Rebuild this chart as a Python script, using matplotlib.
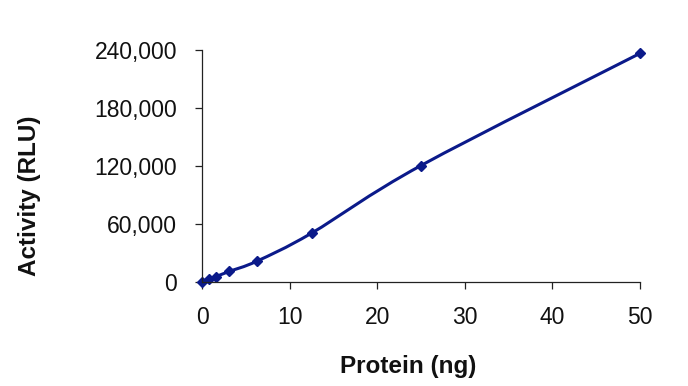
import numpy as np
import matplotlib.pyplot as plt
from matplotlib.path import Path
from matplotlib.patches import PathPatch
from matplotlib.ticker import FuncFormatter

protein_ng = [0, 0.78, 1.56, 3.125, 6.25, 12.5, 25, 50]
activity_rlu = [500, 3000, 5500, 11000, 21500, 50500, 120500, 236500]

plt.rcParams['font.family'] = ['Liberation Sans', 'DejaVu Sans']

line_color = '#0b1a8a'

fig = plt.figure(figsize=(6.88, 3.86), dpi=100)
ax = fig.add_axes([202 / 688, 1 - 282 / 386, (640 - 202) / 688, (282 - 50) / 386])


def smooth_path(xs, ys, t=1 / 6):
    # excel-style smoothed line: bezier segments through the points
    xs = np.asarray(xs, float)
    ys = np.asarray(ys, float)
    n = len(xs)
    verts = [(xs[0], ys[0])]
    codes = [Path.MOVETO]
    for i in range(n - 1):
        p0 = (xs[max(i - 1, 0)], ys[max(i - 1, 0)])
        p1 = (xs[i], ys[i])
        p2 = (xs[i + 1], ys[i + 1])
        p3 = (xs[min(i + 2, n - 1)], ys[min(i + 2, n - 1)])
        c1 = (p1[0] + (p2[0] - p0[0]) * t, p1[1] + (p2[1] - p0[1]) * t)
        c2 = (p2[0] - (p3[0] - p1[0]) * t, p2[1] - (p3[1] - p1[1]) * t)
        verts += [c1, c2, p2]
        codes += [Path.CURVE4] * 3
    return Path(verts, codes)


ax.add_patch(PathPatch(smooth_path(protein_ng, activity_rlu), facecolor='none',
                       edgecolor=line_color, lw=2.2, clip_on=False))
ax.plot(protein_ng, activity_rlu, linestyle='none', marker='D', markersize=5.5,
        color=line_color, clip_on=False)

ax.set_xlim(0, 50)
ax.set_ylim(0, 240000)
ax.set_xticks([0, 10, 20, 30, 40, 50])
ax.set_yticks([0, 60000, 120000, 180000, 240000])
ax.yaxis.set_major_formatter(FuncFormatter(lambda v, p: f'{int(v):,}'))

for s in ['top', 'right']:
    ax.spines[s].set_visible(False)
for s in ['left', 'bottom']:
    ax.spines[s].set_linewidth(0.9)
    ax.spines[s].set_color('#222222')

ax.tick_params(axis='both', direction='out', length=5, width=0.9, color='#222222',
               labelsize=16.5, labelcolor='#111111')
ax.tick_params(axis='y', pad=13)
ax.tick_params(axis='x', pad=12)

fig.text(30 / 688, 1 - 196 / 386, 'Activity (RLU)', rotation=90, ha='center', va='center',
         fontsize=17.5, fontweight='bold', color='#111111')
fig.text(408 / 688, 1 - 366 / 386, 'Protein (ng)', ha='center', va='center',
         fontsize=17.5, fontweight='bold', color='#111111')

fig.savefig('out.png', dpi=100)
